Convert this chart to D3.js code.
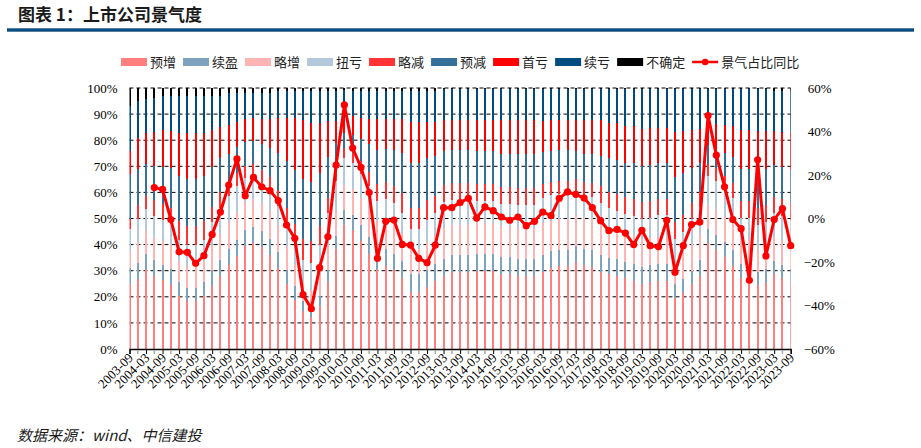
<!DOCTYPE html>
<html><head><meta charset="utf-8">
<script src="https://cdn.jsdelivr.net/npm/d3@7"></script>
<style>body{margin:0;background:#fff;} svg{display:block}</style>
</head><body>
<svg id="c" width="921" height="448"></svg>
<script>
const quarters = ["2003-09","2003-12",
"2004-03","2004-06","2004-09","2004-12","2005-03","2005-06","2005-09","2005-12",
"2006-03","2006-06","2006-09","2006-12","2007-03","2007-06","2007-09","2007-12",
"2008-03","2008-06","2008-09","2008-12","2009-03","2009-06","2009-09","2009-12",
"2010-03","2010-06","2010-09","2010-12","2011-03","2011-06","2011-09","2011-12",
"2012-03","2012-06","2012-09","2012-12","2013-03","2013-06","2013-09","2013-12",
"2014-03","2014-06","2014-09","2014-12","2015-03","2015-06","2015-09","2015-12",
"2016-03","2016-06","2016-09","2016-12","2017-03","2017-06","2017-09","2017-12",
"2018-03","2018-06","2018-09","2018-12","2019-03","2019-06","2019-09","2019-12",
"2020-03","2020-06","2020-09","2020-12","2021-03","2021-06","2021-09","2021-12",
"2022-03","2022-06","2022-09","2022-12","2023-03","2023-06","2023-09"];

const seriesNames = ["预增","续盈","略增","扭亏","略减","预减","首亏","续亏","不确定"];
const seriesColors = ["#FF7F7F","#7FA3BF","#FFB3B3","#B3C8DA","#FF3333","#336F99","#FF0000","#004C80","#000000"];

// share of companies per forecast type (%), one value per quarter
const yuzeng = [25,27, 30,28,26,24, 20,18,18,20, 24,28,32,36, 40,42,40,36, 30,24,18,14, 12,16,26,40,
  50,46,40,34, 28,30,28,25, 20,20,22,24, 26,28,28,28, 28,28,28,27, 27,26,26,26, 27,29,30,30,
  31,30,29,28, 27,26,25,24, 23,24,25,25, 18,20,24,28, 44,40,36,32, 26,26,23,24, 28,26,24];
const xuying = [6,6, 6,6,6,6, 5,5,5,5, 6,6,6,6, 6,6,6,6, 6,5,5,4, 4,4,5,5,
  6,6,6,6, 6,6,6,6, 6,6,6,6, 6,6,6,6, 6,6,6,6, 6,6,6,6, 6,6,6,6,
  6,6,6,6, 6,6,6,6, 6,6,6,6, 5,5,5,6, 6,6,6,6, 5,5,5,5, 5,5,5];
const luezeng = [6,8, 9,9,9,9, 8,8,8,8, 9,10,10,11, 11,11,11,11, 10,9,8,7, 6,7,9,10,
  10,10,10,10, 11,11,11,10, 9,9,10,10, 11,11,11,11, 11,11,11,11, 11,11,11,11, 11,11,11,11,
  11,11,11,11, 11,10,10,10, 10,10,10,10, 8,9,10,10, 10,10,10,10, 9,9,9,9, 9,9,9];
const niukui = [9,9, 8,8,8,8, 8,8,8,8, 9,10,10,10, 9,9,8,8, 7,7,7,8, 10,12,13,12,
  11,10,9,8, 7,7,7,7, 7,7,8,8, 9,9,9,9, 8,8,8,8, 8,8,8,8, 9,9,9,9,
  8,8,8,8, 7,7,7,7, 7,7,8,8, 8,8,9,10, 12,12,11,10, 8,8,8,8, 9,9,9];
const luejian = [4,5, 5,6,6,6, 7,7,7,7, 6,6,5,5, 5,5,5,5, 6,7,8,8, 8,7,6,5,
  4,4,5,5, 6,6,6,7, 7,7,7,6, 6,6,6,6, 6,6,6,6, 6,6,6,6, 5,5,5,5,
  5,5,5,6, 6,6,6,6, 6,6,6,6, 6,6,6,6, 5,5,5,6, 6,6,6,6, 6,6,6];
const yujian = [17,14, 12,13,14,15, 17,18,18,17, 15,13,11,10, 9,9,10,11, 14,17,20,22, 22,20,16,10,
  6,7,8,10, 12,12,13,14, 16,16,15,14, 12,12,12,12, 12,12,12,12, 12,12,12,12, 11,11,11,11,
  10,10,10,11, 12,12,12,13, 13,13,13,13, 16,15,13,11, 8,8,9,10, 12,12,13,13, 12,12,12];
const shoukui = [9,12, 12,13,14,14, 16,17,17,16, 14,12,11,10, 9,9,10,11, 13,16,19,22, 22,19,14,9,
  6,7,8,9, 11,11,11,12, 14,14,13,12, 11,11,11,11, 11,11,11,12, 12,12,12,12, 11,11,11,11,
  11,12,12,13, 13,13,13,13, 13,13,13,13, 16,15,14,13, 9,10,11,12, 14,14,15,14, 13,13,14];
const xukui = [17,14, 13,13,13,13, 14,14,14,14, 13,12,12,11, 10,10,10,10, 10,10,10,11, 12,12,12,12,
  11,10,10,10, 10,10,10,10, 11,11,11,11, 11,11,11,11, 11,11,11,11, 11,11,11,11, 11,11,11,11,
  11,11,11,11, 12,12,13,13, 14,14,14,14, 15,15,15,15, 14,14,14,14, 15,15,15,15, 15,15,15];
const buqueding = [7,5, 4,4,3,3, 3,3,3,3, 3,3,2,2, 2,2,2,2, 1,1,1,1, 1,1,1,1,
  1,1,1,1, 1,1,1,1, 1,1,1,1, 0.5,0.5,0.5,0.5, 0.5,0.5,0.5,0.5, 0.5,0.5,0.5,0.5, 0.5,0.5,0.5,0.5,
  0.5,0.5,0.5,0.5, 0.5,0.5,0.5,0.5, 0.5,0.5,0.5,0.5, 0.5,0.5,0.5,0.5, 0.5,0.5,0.5,0.5, 0.5,0.5,0.5,0.5, 1,1,1];

// 景气占比同比 (%), first three quarters have no value
const yoy = [null,null,null,
 14.2,13.4,-0.5,-15.3,-15.6,-20.6,-17.1,-7.3,3.0,15.4,27.4,10.5,18.9,14.6,12.8,8.2,
 -3.0,-9.1,-35.0,-41.5,-22.6,-8.4,24.6,52.2,32.4,23.5,11.9,-18.3,-1.3,-0.7,-11.9,-12.2,
 -18.3,-20.3,-12.2,5.0,5.0,7.3,9.3,0.2,5.3,3.6,0.7,-0.8,0.7,-3.3,-1.3,3.0,1.3,9.3,12.2,
 11.1,9.4,5.0,-1.0,-5.6,-5.0,-6.7,-12.0,-5.4,-12.5,-13.0,-0.8,-24.7,-12.5,-2.8,-1.6,
 47.3,29.1,14.6,-0.5,-4.7,-28.4,27.0,-17.2,-0.5,4.5,-12.5];

const leftTicks = [0,0.1,0.2,0.3,0.4,0.5,0.6,0.7,0.8,0.9,1.0];
const rightTicks = [-0.6,-0.4,-0.2,0,0.2,0.4,0.6];

const titleText = "图表 1：上市公司景气度";
const sourceText = "数据来源：wind、中信建投";
const lineName = "景气占比同比";

const svg = d3.select("#c");
const L = 129.5, R = 790.7, T = 88, B = 349;
const serif = "'Liberation Serif','Times New Roman',serif";
const cjk = "'Noto Sans CJK SC','Noto Sans',sans-serif";

const x = d3.scaleLinear().domain([0, quarters.length - 1]).range([L, R]);
const yL = d3.scaleLinear().domain([0, 1]).range([B, T]);
const yR = d3.scaleLinear().domain([-0.6, 0.6]).range([B, T]);

// title + rule
svg.append("text").attr("x", 18).attr("y", 21).text(titleText)
  .attr("font-family", cjk).attr("font-size", 17).attr("font-weight", "bold").attr("fill", "#1a1a1a");
svg.append("rect").attr("x", 7).attr("y", 28.3).attr("width", 907).attr("height", 3.4).attr("fill", "#0B4D80");

// gridlines
svg.append("g").selectAll("line").data(leftTicks.slice(1)).join("line")
  .attr("x1", L).attr("x2", R).attr("y1", d => yL(d)).attr("y2", d => yL(d))
  .attr("stroke", "#000").attr("stroke-width", 1).attr("stroke-dasharray", "4,3");

// stacked bars
const table = quarters.map((q, i) => {
  const r = {i};
  const arrs = [yuzeng, xuying, luezeng, niukui, luejian, yujian, shoukui, xukui, buqueding];
  seriesNames.forEach((n, k) => r[n] = arrs[k][i]);
  return r;
});
const stacked = d3.stack().keys(seriesNames).offset(d3.stackOffsetExpand)(table);
svg.append("clipPath").attr("id", "pc").append("rect").attr("x", L).attr("y", T - 2).attr("width", R - L).attr("height", B - T + 2);
const bw = 2;
const barG = svg.append("g").attr("clip-path", "url(#pc)").attr("shape-rendering", "crispEdges");
stacked.forEach((s, k) => {
  barG.append("g").attr("fill", seriesColors[k]).selectAll("rect").data(s).join("rect")
    .attr("x", d => x(d.data.i) - bw / 2).attr("width", bw)
    .attr("y", d => yL(d[1])).attr("height", d => yL(d[0]) - yL(d[1]));
});

// x axis
const xAxis = d3.axisBottom(x).tickValues(d3.range(0, quarters.length, 2)).tickSize(5)
  .tickFormat(i => quarters[i]);
const gx = svg.append("g").attr("transform", `translate(0,${B})`).call(xAxis);
gx.select(".domain").attr("stroke", "#000").attr("stroke-width", 1.3);
gx.selectAll(".tick line").attr("stroke", "#000");
gx.selectAll(".tick text").attr("font-family", serif).attr("font-size", 13).attr("fill", "#000")
  .attr("text-anchor", "end").attr("transform", "rotate(-45)").attr("x", -4).attr("y", 5).attr("dy", "0.35em");
svg.append("g").selectAll("line").data(d3.range(1, quarters.length, 2)).join("line")
  .attr("x1", d => x(d)).attr("x2", d => x(d)).attr("y1", B + 1).attr("y2", B + 5)
  .attr("stroke", "#aaa").attr("stroke-width", 1.5);

// left axis
const gl = svg.append("g").attr("transform", `translate(${L - 12},0)`)
  .call(d3.axisLeft(yL).tickValues(leftTicks).tickSize(0).tickFormat(d3.format(".0%")));
gl.select(".domain").remove();
gl.selectAll("text").attr("font-family", serif).attr("font-size", 13).attr("fill", "#000").attr("x", 0);

// right axis
const gr = svg.append("g").attr("transform", `translate(${R + 14},0)`)
  .call(d3.axisRight(yR).tickValues(rightTicks).tickSize(0).tickFormat(d3.format(".0%")));
gr.select(".domain").remove();
gr.selectAll("text").attr("font-family", serif).attr("font-size", 13).attr("fill", "#000").attr("x", d => d < 0 ? -1 : 3);

// line
const pts = yoy.map((v, i) => ({i, v}));
const line = d3.line().defined(d => d.v !== null).x(d => x(d.i)).y(d => yR(d.v / 100));
svg.append("path").datum(pts).attr("d", line).attr("fill", "none").attr("stroke", "#FF0000")
  .attr("stroke-width", 3).attr("stroke-linejoin", "round");
svg.append("g").selectAll("circle").data(pts.filter(d => d.v !== null)).join("circle")
  .attr("cx", d => x(d.i)).attr("cy", d => yR(d.v / 100)).attr("r", 3.6).attr("fill", "#FF0000");

// legend
const lg = svg.append("g").attr("font-family", cjk).attr("font-size", 13).attr("fill", "#222");
let lx = 121;
const ly = 62;
seriesNames.forEach((n, k) => {
  lg.append("rect").attr("x", lx).attr("y", ly - 4).attr("width", 26).attr("height", 8).attr("fill", seriesColors[k]);
  const t = lg.append("text").attr("x", lx + 29).attr("y", ly).attr("dy", "0.35em").text(n);
  lx += 29 + t.node().getComputedTextLength() + 7;
});
lg.append("line").attr("x1", lx).attr("x2", lx + 26).attr("y1", ly).attr("y2", ly).attr("stroke", "#FF0000").attr("stroke-width", 2.5);
lg.append("circle").attr("cx", lx + 13).attr("cy", ly).attr("r", 3.3).attr("fill", "#FF0000");
lg.append("text").attr("x", lx + 29).attr("y", ly).attr("dy", "0.35em").text(lineName);

// source
svg.append("text").attr("x", 17).attr("y", 441).text(sourceText)
  .attr("font-family", cjk).attr("font-size", 15).attr("font-style", "italic").attr("fill", "#1a1a1a");
</script>
</body></html>
